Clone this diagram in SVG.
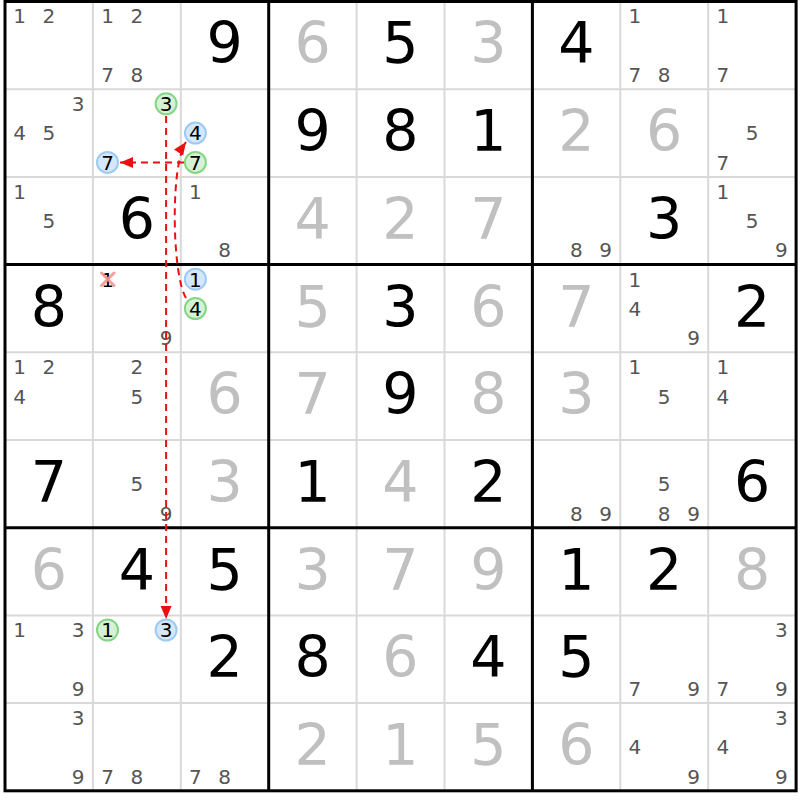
<svg xmlns="http://www.w3.org/2000/svg" width="800" height="800" viewBox="0 0 800 800">
<style>
.thin{stroke:#d9d9d9;stroke-width:2}
.thick{stroke:#000;stroke-width:3}
.big{font-family:"DejaVu Sans","Liberation Sans",sans-serif;font-size:57px;text-anchor:middle}
.k{fill:#000}
.gr{fill:#c0c0c0}
.c{font-family:"DejaVu Sans","Liberation Sans",sans-serif;font-size:20px;text-anchor:middle;fill:#555}
.cc{font-family:"DejaVu Sans","Liberation Sans",sans-serif;font-size:20px;text-anchor:middle;fill:#000}
.cb{fill:#d5e8fb;stroke:#9ccaf5;stroke-width:2}
.cgn{fill:#d5f2d5;stroke:#84d584;stroke-width:2}
.link{fill:none;stroke:#e81010;stroke-width:2;stroke-dasharray:7 5}
.x{stroke:#f09090;stroke-width:3;stroke-linecap:round;opacity:0.85}
</style>
<defs>
<marker id="ah" markerUnits="userSpaceOnUse" markerWidth="14" markerHeight="12" refX="13" refY="6" orient="auto">
<path d="M0,0.5 L13,6 L0,11.5 z" fill="#e81010"/>
</marker>
</defs>
<rect x="0" y="0" width="800" height="800" fill="#fff"/>
<g id="grid">
<line class="thin" x1="92.9" y1="1.5" x2="92.9" y2="790.8"/>
<line class="thin" x1="180.8" y1="1.5" x2="180.8" y2="790.8"/>
<line class="thin" x1="356.6" y1="1.5" x2="356.6" y2="790.8"/>
<line class="thin" x1="444.5" y1="1.5" x2="444.5" y2="790.8"/>
<line class="thin" x1="620.3" y1="1.5" x2="620.3" y2="790.8"/>
<line class="thin" x1="708.2" y1="1.5" x2="708.2" y2="790.8"/>
<line class="thin" x1="5" y1="89.2" x2="796.1" y2="89.2"/>
<line class="thin" x1="5" y1="176.9" x2="796.1" y2="176.9"/>
<line class="thin" x1="5" y1="352.3" x2="796.1" y2="352.3"/>
<line class="thin" x1="5" y1="440" x2="796.1" y2="440"/>
<line class="thin" x1="5" y1="615.4" x2="796.1" y2="615.4"/>
<line class="thin" x1="5" y1="703.1" x2="796.1" y2="703.1"/>
<line class="thick" x1="268.7" y1="1.5" x2="268.7" y2="790.8"/>
<line class="thick" x1="532.4" y1="1.5" x2="532.4" y2="790.8"/>
<line class="thick" x1="5" y1="264.6" x2="796.1" y2="264.6"/>
<line class="thick" x1="5" y1="527.7" x2="796.1" y2="527.7"/>
<rect x="5" y="1.5" width="791.1" height="789.3" fill="none" stroke="#000" stroke-width="3"/>
</g>
<g id="givens">
<text class="big k" x="224.7" y="63.4">9</text>
<text class="big gr" x="312.6" y="63.4">6</text>
<text class="big k" x="400.5" y="63.4">5</text>
<text class="big gr" x="488.4" y="63.4">3</text>
<text class="big k" x="576.3" y="63.4">4</text>
<text class="big k" x="312.6" y="151.1">9</text>
<text class="big k" x="400.5" y="151.1">8</text>
<text class="big k" x="488.4" y="151.1">1</text>
<text class="big gr" x="576.3" y="151.1">2</text>
<text class="big gr" x="664.2" y="151.1">6</text>
<text class="big k" x="136.8" y="238.8">6</text>
<text class="big gr" x="312.6" y="238.8">4</text>
<text class="big gr" x="400.5" y="238.8">2</text>
<text class="big gr" x="488.4" y="238.8">7</text>
<text class="big k" x="664.2" y="238.8">3</text>
<text class="big k" x="48.9" y="326.5">8</text>
<text class="big gr" x="312.6" y="326.5">5</text>
<text class="big k" x="400.5" y="326.5">3</text>
<text class="big gr" x="488.4" y="326.5">6</text>
<text class="big gr" x="576.3" y="326.5">7</text>
<text class="big k" x="752.1" y="326.5">2</text>
<text class="big gr" x="224.7" y="414.2">6</text>
<text class="big gr" x="312.6" y="414.2">7</text>
<text class="big k" x="400.5" y="414.2">9</text>
<text class="big gr" x="488.4" y="414.2">8</text>
<text class="big gr" x="576.3" y="414.2">3</text>
<text class="big k" x="48.9" y="501.9">7</text>
<text class="big gr" x="224.7" y="501.9">3</text>
<text class="big k" x="312.6" y="501.9">1</text>
<text class="big gr" x="400.5" y="501.9">4</text>
<text class="big k" x="488.4" y="501.9">2</text>
<text class="big k" x="752.1" y="501.9">6</text>
<text class="big gr" x="48.9" y="589.6">6</text>
<text class="big k" x="136.8" y="589.6">4</text>
<text class="big k" x="224.7" y="589.6">5</text>
<text class="big gr" x="312.6" y="589.6">3</text>
<text class="big gr" x="400.5" y="589.6">7</text>
<text class="big gr" x="488.4" y="589.6">9</text>
<text class="big k" x="576.3" y="589.6">1</text>
<text class="big k" x="664.2" y="589.6">2</text>
<text class="big gr" x="752.1" y="589.6">8</text>
<text class="big k" x="224.7" y="677.3">2</text>
<text class="big k" x="312.6" y="677.3">8</text>
<text class="big gr" x="400.5" y="677.3">6</text>
<text class="big k" x="488.4" y="677.3">4</text>
<text class="big k" x="576.3" y="677.3">5</text>
<text class="big gr" x="312.6" y="765">2</text>
<text class="big gr" x="400.5" y="765">1</text>
<text class="big gr" x="488.4" y="765">5</text>
<text class="big gr" x="576.3" y="765">6</text>
</g>
<g id="candidates">
<g id="r0c0"><text class="c" x="19.6" y="23.4">1</text><text class="c" x="48.9" y="23.4">2</text></g>
<g id="r0c1"><text class="c" x="107.5" y="23.4">1</text><text class="c" x="136.8" y="23.4">2</text><text class="c" x="107.5" y="82">7</text><text class="c" x="136.8" y="82">8</text></g>
<g id="r0c7"><text class="c" x="634.9" y="23.4">1</text><text class="c" x="634.9" y="82">7</text><text class="c" x="664.2" y="82">8</text></g>
<g id="r0c8"><text class="c" x="722.8" y="23.4">1</text><text class="c" x="722.8" y="82">7</text></g>
<g id="r1c0"><text class="c" x="78.2" y="111.1">3</text><text class="c" x="19.6" y="140.4">4</text><text class="c" x="48.9" y="140.4">5</text></g>
<g id="r1c1"><circle class="cgn" cx="166.1" cy="103.8" r="10.5"/><text class="cc" x="166.1" y="111.1">3</text><circle class="cb" cx="107.5" cy="162.4" r="10.5"/><text class="cc" x="107.5" y="169.7">7</text></g>
<g id="r1c2"><circle class="cb" cx="195.4" cy="133.1" r="10.5"/><text class="cc" x="195.4" y="140.4">4</text><circle class="cgn" cx="195.4" cy="162.4" r="10.5"/><text class="cc" x="195.4" y="169.7">7</text></g>
<g id="r1c8"><text class="c" x="752.1" y="140.4">5</text><text class="c" x="722.8" y="169.7">7</text></g>
<g id="r2c0"><text class="c" x="19.6" y="198.8">1</text><text class="c" x="48.9" y="228.1">5</text></g>
<g id="r2c2"><text class="c" x="195.4" y="198.8">1</text><text class="c" x="224.7" y="257.4">8</text></g>
<g id="r2c6"><text class="c" x="576.3" y="257.4">8</text><text class="c" x="605.6" y="257.4">9</text></g>
<g id="r2c8"><text class="c" x="722.8" y="198.8">1</text><text class="c" x="752.1" y="228.1">5</text><text class="c" x="781.4" y="257.4">9</text></g>
<g id="r3c1"><text class="cc" x="107.5" y="286.5">1</text><line class="x" x1="101.5" y1="273" x2="114" y2="285.5"/><line class="x" x1="114" y1="273" x2="101.5" y2="285.5"/><text class="c" x="166.1" y="345.1">9</text></g>
<g id="r3c2"><circle class="cb" cx="195.4" cy="279.2" r="10.5"/><text class="cc" x="195.4" y="286.5">1</text><circle class="cgn" cx="195.4" cy="308.5" r="10.5"/><text class="cc" x="195.4" y="315.8">4</text></g>
<g id="r3c7"><text class="c" x="634.9" y="286.5">1</text><text class="c" x="634.9" y="315.8">4</text><text class="c" x="693.5" y="345.1">9</text></g>
<g id="r4c0"><text class="c" x="19.6" y="374.2">1</text><text class="c" x="48.9" y="374.2">2</text><text class="c" x="19.6" y="403.5">4</text></g>
<g id="r4c1"><text class="c" x="136.8" y="374.2">2</text><text class="c" x="136.8" y="403.5">5</text></g>
<g id="r4c7"><text class="c" x="634.9" y="374.2">1</text><text class="c" x="664.2" y="403.5">5</text></g>
<g id="r4c8"><text class="c" x="722.8" y="374.2">1</text><text class="c" x="722.8" y="403.5">4</text></g>
<g id="r5c1"><text class="c" x="136.8" y="491.2">5</text><text class="c" x="166.1" y="520.5">9</text></g>
<g id="r5c6"><text class="c" x="576.3" y="520.5">8</text><text class="c" x="605.6" y="520.5">9</text></g>
<g id="r5c7"><text class="c" x="664.2" y="491.2">5</text><text class="c" x="664.2" y="520.5">8</text><text class="c" x="693.5" y="520.5">9</text></g>
<g id="r7c0"><text class="c" x="19.6" y="637.3">1</text><text class="c" x="78.2" y="637.3">3</text><text class="c" x="78.2" y="695.9">9</text></g>
<g id="r7c1"><circle class="cgn" cx="107.5" cy="630" r="10.5"/><text class="cc" x="107.5" y="637.3">1</text><circle class="cb" cx="166.1" cy="630" r="10.5"/><text class="cc" x="166.1" y="637.3">3</text></g>
<g id="r7c7"><text class="c" x="634.9" y="695.9">7</text><text class="c" x="693.5" y="695.9">9</text></g>
<g id="r7c8"><text class="c" x="781.4" y="637.3">3</text><text class="c" x="722.8" y="695.9">7</text><text class="c" x="781.4" y="695.9">9</text></g>
<g id="r8c0"><text class="c" x="78.2" y="725">3</text><text class="c" x="78.2" y="783.6">9</text></g>
<g id="r8c1"><text class="c" x="107.5" y="783.6">7</text><text class="c" x="136.8" y="783.6">8</text></g>
<g id="r8c2"><text class="c" x="195.4" y="783.6">7</text><text class="c" x="224.7" y="783.6">8</text></g>
<g id="r8c7"><text class="c" x="634.9" y="754.3">4</text><text class="c" x="693.5" y="783.6">9</text></g>
<g id="r8c8"><text class="c" x="781.4" y="725">3</text><text class="c" x="722.8" y="754.3">4</text><text class="c" x="781.4" y="783.6">9</text></g>
</g>
<g id="connectors">
<path class="link" d="M166.1,116 L166.1,619" marker-end="url(#ah)"/>
<path class="link" d="M184,162.4 L120,162.4" marker-end="url(#ah)"/>
<path class="link" d="M186,298 C172,275 170,165 186,142" marker-end="url(#ah)"/>
</g>
</svg>
